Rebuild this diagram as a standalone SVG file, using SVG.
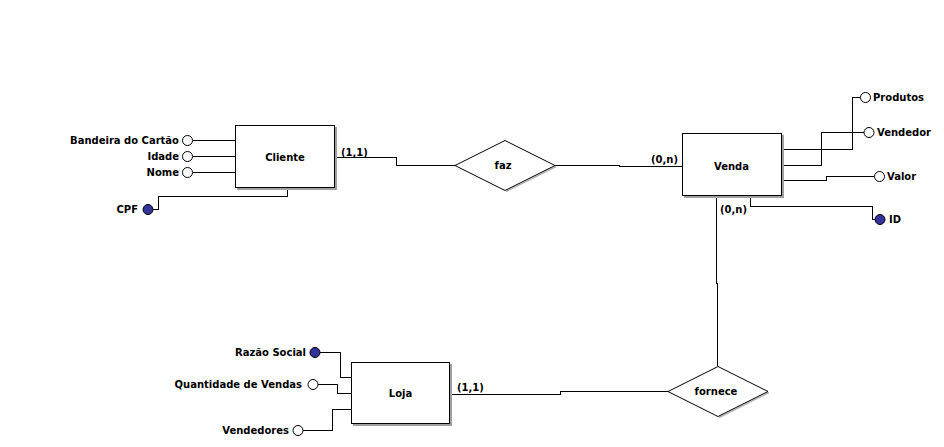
<svg xmlns="http://www.w3.org/2000/svg" width="944" height="447" viewBox="0 0 944 447">
  <style>
    text { font-family: "DejaVu Sans", "Liberation Sans", sans-serif; font-weight: bold; font-size: 10px; fill: #000; }
    .mid { text-anchor: middle; }
    .end { text-anchor: end; }
    .box { fill: #fff; stroke: #000; stroke-width: 1; shape-rendering: crispEdges; }
    .shadow { fill: #a0a0a0; shape-rendering: crispEdges; }
    .rel { fill: #fff; stroke: #000; stroke-width: 1; }
    .relshadow { fill: none; stroke: #b0b0b0; stroke-width: 1.5; }
    .att { fill: #fff; stroke: #000; stroke-width: 1; }
    .key { fill: #333399; stroke: #000; stroke-width: 1; }
    .wire { fill: none; stroke: #000; stroke-width: 1; shape-rendering: crispEdges; }
  </style>
  <rect width="944" height="447" fill="#fff"/>

  <!-- connectors -->
  <g id="connectors">
    <!-- Cliente attributes -->
    <polyline class="wire" points="192.5,140.5 235.5,140.5"/>
    <polyline class="wire" points="192.5,156.5 235.5,156.5"/>
    <polyline class="wire" points="192.5,172.5 235.5,172.5"/>
    <polyline class="wire" points="153,209.5 158.5,209.5 158.5,196.5 287.5,196.5 287.5,188"/>
    <!-- Cliente - faz - Venda -->
    <polyline class="wire" points="335,157.5 396.5,157.5 396.5,165.5 455,165.5"/>
    <polyline class="wire" points="555,165.5 619.5,165.5 619.5,166.5 682,166.5"/>
    <!-- Venda attributes -->
    <polyline class="wire" points="782,149.5 852.5,149.5 852.5,97.5 860,97.5"/>
    <polyline class="wire" points="782,165.5 821.5,165.5 821.5,132.5 864,132.5"/>
    <polyline class="wire" points="782,180.5 826.5,180.5 826.5,176.5 874,176.5"/>
    <polyline class="wire" points="750.5,197 750.5,206.5 872.5,206.5 872.5,219.5 875,219.5"/>
    <!-- Venda - fornece - Loja -->
    <polyline class="wire" points="716.5,197 716.5,283.5 717.5,283.5 717.5,366"/>
    <polyline class="wire" points="451,394.5 560.5,394.5 560.5,391.5 668,391.5"/>
    <!-- Loja attributes -->
    <polyline class="wire" points="320,352.5 340.5,352.5 340.5,377.5 351,377.5"/>
    <polyline class="wire" points="318,384.5 337.5,384.5 337.5,393.5 351,393.5"/>
    <polyline class="wire" points="303,430.5 332.5,430.5 332.5,409.5 351,409.5"/>
  </g>

  <!-- entity: Cliente -->
  <g id="cliente">
    <rect class="shadow" x="237" y="127" width="100" height="63"/>
    <rect class="box" x="235.5" y="125.5" width="99" height="62"/>
    <text class="mid" x="285" y="161">Cliente</text>
    <text x="341" y="156">(1,1)</text>
  </g>
  <g id="attr-bandeira">
    <circle class="att" cx="187.5" cy="140.5" r="5"/>
    <text class="end" x="179" y="144">Bandeira do Cartão</text>
  </g>
  <g id="attr-idade">
    <circle class="att" cx="187.5" cy="156.5" r="5"/>
    <text class="end" x="179" y="160">Idade</text>
  </g>
  <g id="attr-nome">
    <circle class="att" cx="187.5" cy="172.5" r="5"/>
    <text class="end" x="179" y="176">Nome</text>
  </g>
  <g id="attr-cpf">
    <circle class="key" cx="148" cy="209.5" r="5"/>
    <text class="end" x="138" y="213">CPF</text>
  </g>

  <!-- relationship: faz -->
  <g id="faz">
    <polyline class="relshadow" points="556,166.5 506,191.5"/>
    <polygon class="rel" points="455,165.5 505,140.5 555,165.5 505,190.5"/>
    <text class="mid" x="503" y="169">faz</text>
    <text x="651" y="163">(0,n)</text>
  </g>

  <!-- entity: Venda -->
  <g id="venda">
    <rect class="shadow" x="684" y="135" width="100" height="63"/>
    <rect class="box" x="682.5" y="133.5" width="99" height="62"/>
    <text class="mid" x="731.5" y="170">Venda</text>
    <text x="720" y="213">(0,n)</text>
  </g>
  <g id="attr-produtos">
    <circle class="att" cx="865.5" cy="97.5" r="5"/>
    <text x="873" y="101">Produtos</text>
  </g>
  <g id="attr-vendedor">
    <circle class="att" cx="869" cy="132.5" r="5"/>
    <text x="877" y="136">Vendedor</text>
  </g>
  <g id="attr-valor">
    <circle class="att" cx="879.5" cy="176.5" r="5"/>
    <text x="887" y="180">Valor</text>
  </g>
  <g id="attr-id">
    <circle class="key" cx="880" cy="219.5" r="5"/>
    <text x="889" y="223">ID</text>
  </g>

  <!-- relationship: fornece -->
  <g id="fornece">
    <polyline class="relshadow" points="769,392.5 719,417.5"/>
    <polygon class="rel" points="668,391.5 718,366.5 768,391.5 718,416.5"/>
    <text class="mid" x="716" y="395">fornece</text>
  </g>

  <!-- entity: Loja -->
  <g id="loja">
    <rect class="shadow" x="353" y="364" width="99" height="62"/>
    <rect class="box" x="351.5" y="362.5" width="98" height="61"/>
    <text class="mid" x="400.5" y="397">Loja</text>
    <text x="457" y="391">(1,1)</text>
  </g>
  <g id="attr-razao">
    <circle class="key" cx="315" cy="352.5" r="5"/>
    <text class="end" x="306" y="356">Razão Social</text>
  </g>
  <g id="attr-quantidade">
    <circle class="att" cx="313" cy="384.5" r="5"/>
    <text class="end" x="302" y="388">Quantidade de Vendas</text>
  </g>
  <g id="attr-vendedores">
    <circle class="att" cx="298" cy="430.5" r="5"/>
    <text class="end" x="289" y="434">Vendedores</text>
  </g>
</svg>
